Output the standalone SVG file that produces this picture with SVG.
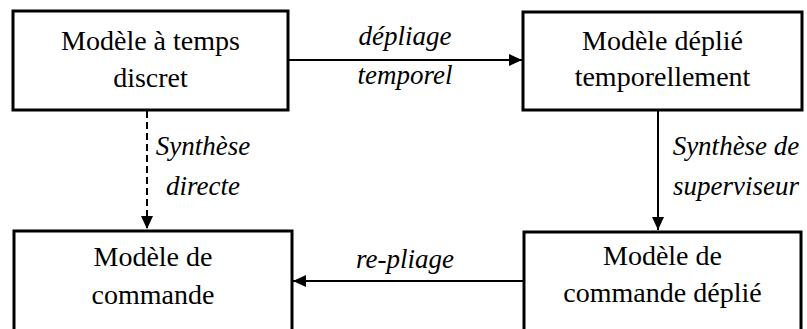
<svg xmlns="http://www.w3.org/2000/svg" width="807" height="329" viewBox="0 0 807 329">
<style>
.box{fill:#fff;stroke:#000;stroke-width:3}
.t{font-family:'Liberation Serif','Times New Roman',Times,serif;font-size:28px;fill:#000;text-anchor:middle}
.l{font-family:'Liberation Serif','Times New Roman',Times,serif;font-size:27px;font-style:italic;fill:#000;text-anchor:middle}
.c{stroke:#000;stroke-width:2;fill:none}
</style>
<defs>
<marker id="ah" viewBox="0 0 13 12" refX="13" refY="6" markerWidth="13" markerHeight="12" markerUnits="userSpaceOnUse" orient="auto">
<path d="M0,0 L13,6 L0,12 Z" fill="#000"/>
</marker>
</defs>
<rect width="807" height="329" fill="#fff"/>
<g id="connectors">
<line class="c" x1="288" y1="60" x2="522" y2="60" marker-end="url(#ah)"/>
<line class="c" x1="147" y1="111" x2="147" y2="229" stroke-dasharray="7,4" marker-end="url(#ah)"/>
<line class="c" x1="658" y1="111" x2="658" y2="230" marker-end="url(#ah)"/>
<line class="c" x1="524" y1="281" x2="293" y2="281" marker-end="url(#ah)"/>
<text class="l" x="405" y="45">dépliage</text>
<text class="l" x="405" y="84">temporel</text>
<text class="l" x="203" y="155">Synthèse</text>
<text class="l" x="203" y="195">directe</text>
<text class="l" x="736" y="155">Synthèse de</text>
<text class="l" x="736" y="195">superviseur</text>
<text class="l" x="405" y="268">re-pliage</text>
</g>
<g id="n1">
<rect class="box" x="13" y="11" width="275" height="99"/>
<text class="t" x="150.5" y="50">Modèle à temps</text>
<text class="t" x="150.5" y="87">discret</text>
</g>
<g id="n2">
<rect class="box" x="523" y="12" width="279" height="98"/>
<text class="t" x="662.5" y="50">Modèle déplié</text>
<text class="t" x="662.5" y="86">temporellement</text>
</g>
<g id="n3">
<rect class="box" x="14" y="231" width="278" height="120"/>
<text class="t" x="153" y="266">Modèle de</text>
<text class="t" x="153" y="304">commande</text>
</g>
<g id="n4">
<rect class="box" x="524" y="232" width="277" height="120"/>
<text class="t" x="662.5" y="265">Modèle de</text>
<text class="t" x="662.5" y="302">commande déplié</text>
</g>
</svg>
